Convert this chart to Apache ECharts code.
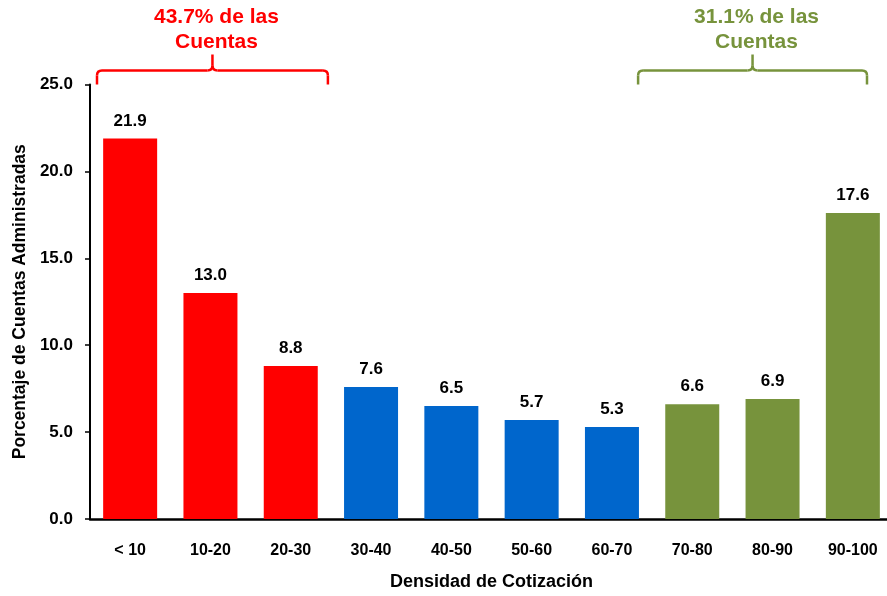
<!DOCTYPE html>
<html>
<head>
<meta charset="utf-8">
<script src="https://cdn.jsdelivr.net/npm/echarts@6/dist/echarts.min.js"></script>
<style>
  html, body { margin: 0; padding: 0; background: #fff; }
  #chart { width: 887px; height: 596px; }
</style>
</head>
<body>
<div id="chart"></div>
<script>
// Densidad de cotización: porcentaje de cuentas por tramo
const categories = ['< 10', '10-20', '20-30', '30-40', '40-50', '50-60', '60-70', '70-80', '80-90', '90-100'];
const values = [21.9, 13.0, 8.8, 7.6, 6.5, 5.7, 5.3, 6.6, 6.9, 17.6];
const groups = ['low', 'low', 'low', 'mid', 'mid', 'mid', 'mid', 'high', 'high', 'high'];
const yTicks = [0, 5, 10, 15, 20, 25];
const lowShare = '43.7% de las\nCuentas';
const highShare = '31.1% de las\nCuentas';

const colors = { low: '#FF0000', mid: '#0066CC', high: '#77933C' };
const FONT = 'Liberation Sans, Arial, sans-serif';

const chart = echarts.init(document.getElementById('chart'));

chart.setOption({
  animation: false,
  grid: { left: 90, top: 84.5, width: 803, height: 434.5, containLabel: false, outerBoundsMode: 'none' },
  xAxis: {
    type: 'category',
    data: categories,
    name: 'Densidad de Cotización',
    nameLocation: 'middle',
    nameGap: 54,
    nameTextStyle: { fontFamily: FONT, fontWeight: 'bold', fontSize: 18, color: '#000' },
    axisLine: { lineStyle: { color: '#000', width: 2.5 } },
    axisTick: { show: false },
    axisLabel: { fontFamily: FONT, fontWeight: 'bold', fontSize: 16, color: '#000', margin: 24 }
  },
  yAxis: {
    type: 'value',
    min: yTicks[0],
    max: yTicks[yTicks.length - 1],
    interval: 5,
    name: 'Porcentaje de Cuentas Administradas',
    nameLocation: 'middle',
    nameGap: 60,
    nameTextStyle: { fontFamily: FONT, fontWeight: 'bold', fontSize: 17.5, color: '#000' },
    splitLine: { show: false },
    axisLine: { show: true, lineStyle: { color: '#000', width: 2 } },
    axisTick: { show: true, length: 5, lineStyle: { color: '#000', width: 1.5 } },
    axisLabel: {
      fontFamily: FONT, fontWeight: 'bold', fontSize: 17, color: '#000', margin: 17,
      formatter: v => v.toFixed(1)
    }
  },
  series: [{
    type: 'bar',
    barWidth: 54,
    data: values.map((v, i) => ({ value: v, itemStyle: { color: colors[groups[i]] } })),
    label: {
      show: true,
      position: 'top',
      distance: 9,
      fontFamily: FONT, fontWeight: 'bold', fontSize: 17, color: '#000',
      formatter: p => p.value.toFixed(1)
    }
  }]
});

// Curly brace over a run of categories, with its caption above.
// padL / padR trim the brace ends relative to the category band edges.
function brace(firstIdx, lastIdx, padL, padR, color, text) {
  const grid = { gridIndex: 0 };
  const band = chart.convertToPixel(grid, [1, 0])[0] - chart.convertToPixel(grid, [0, 0])[0];
  const x0 = chart.convertToPixel(grid, [firstIdx, 0])[0] - band / 2 + padL;
  const x1 = chart.convertToPixel(grid, [lastIdx, 0])[0] + band / 2 - padR;
  const yTop = chart.convertToPixel(grid, [0, 25])[1];
  const yLine = yTop - 14;
  const yTip = yLine - 16;
  const xc = (x0 + x1) / 2;
  const r = 5;
  const stroke = { stroke: color, lineWidth: 2.5, fill: null };
  const seg = (a, b, c, d) => ({ type: 'line', shape: { x1: a, y1: b, x2: c, y2: d }, style: stroke });
  const curve = (a, b, cx, cy, c, d) => ({
    type: 'bezierCurve', shape: { x1: a, y1: b, cpx1: cx, cpy1: cy, x2: c, y2: d }, style: stroke
  });
  return [
    seg(x0, yTop, x0, yLine + r),
    curve(x0, yLine + r, x0, yLine, x0 + r, yLine),
    seg(x0 + r, yLine, xc - r, yLine),
    curve(xc - r, yLine, xc, yLine, xc, yLine - r),
    seg(xc, yLine - r, xc, yTip),
    curve(xc, yLine - r, xc, yLine, xc + r, yLine),
    seg(xc + r, yLine, x1 - r, yLine),
    curve(x1 - r, yLine, x1, yLine, x1, yLine + r),
    seg(x1, yLine + r, x1, yTop),
    {
      type: 'text',
      x: xc + 4,
      y: 5,
      style: {
        text: text,
        fill: color,
        font: 'bold 21px ' + FONT,
        align: 'center',
        verticalAlign: 'top',
        lineHeight: 25
      }
    }
  ];
}

chart.setOption({
  graphic: [].concat(
    brace(0, 2, 7, 3, colors.low, lowShare),
    brace(7, 9, -14, 26, colors.high, highShare)
  )
});
</script>
</body>
</html>
